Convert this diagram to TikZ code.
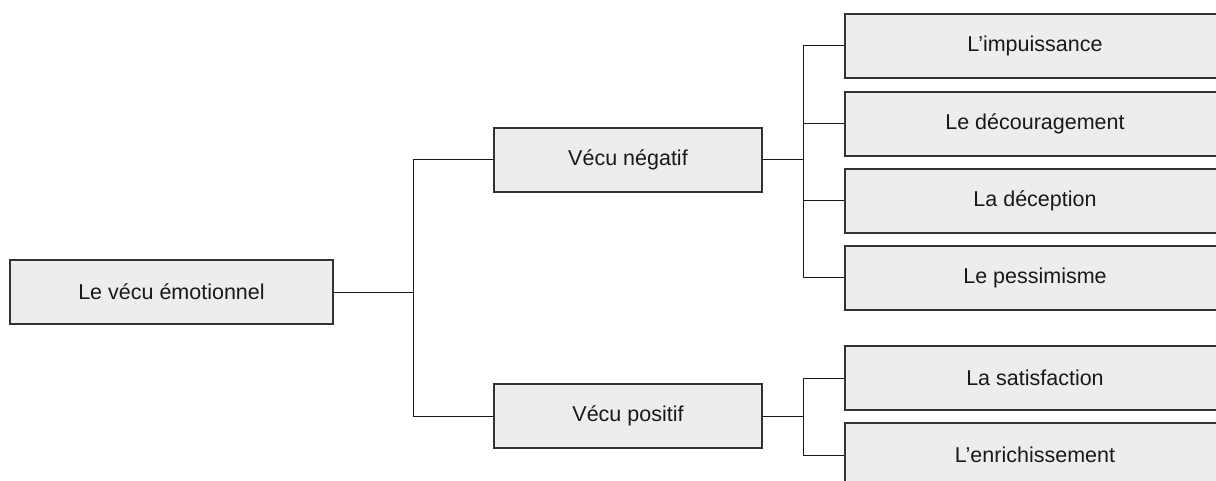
\documentclass[tikz,border=0pt]{standalone}
\usepackage{fontspec}
\setmainfont{Liberation Sans}
\begin{document}
\begin{tikzpicture}[x=1pt,y=-1pt,
  box/.style={draw=black!80,fill=black!7,line width=1.1pt,rectangle,inner sep=0pt,
    font=\fontsize{21.5}{24}\selectfont,text=black!90},
  rootbox/.style={box,minimum width=323pt,minimum height=64pt},
  midbox/.style={box,minimum width=268pt,minimum height=64pt},
  leafbox/.style={box,minimum width=380pt,minimum height=64pt},
  link/.style={draw=black!90,line width=1pt}]
\useasboundingbox (0,0) rectangle (1216,481);
\clip (0,0) rectangle (1216,481);
\node[rootbox] (root) at (171.5,292) {Le vécu émotionnel};
\node[midbox] (neg) at (628,160) {Vécu négatif};
\node[midbox] (pos) at (628,416) {Vécu positif};
\node[leafbox] (l1) at (1035,46) {L’impuissance};
\node[leafbox] (l2) at (1035,124) {Le découragement};
\node[leafbox] (l3) at (1035,201) {La déception};
\node[leafbox] (l4) at (1035,278) {Le pessimisme};
\node[leafbox] (l5) at (1035,378) {La satisfaction};
\node[leafbox] (l6) at (1035,455) {L’enrichissement};
\coordinate (t) at (413,292);
\coordinate (bn) at (803,160);
\coordinate (bp) at (803,416);
\draw[link] (root.east) -- (t);
\draw[link] (neg.west) -- (t |- neg.west) -- (t |- pos.west) -- (pos.west);
\draw[link] (neg.east) -- (bn);
\draw[link] (l1.west) -- (bn |- l1.west) -- (bn |- l4.west) -- (l4.west);
\draw[link] (l2.west) -- (bn |- l2.west);
\draw[link] (l3.west) -- (bn |- l3.west);
\draw[link] (pos.east) -- (bp);
\draw[link] (l5.west) -- (bp |- l5.west) -- (bp |- l6.west) -- (l6.west);
\end{tikzpicture}
\end{document}
